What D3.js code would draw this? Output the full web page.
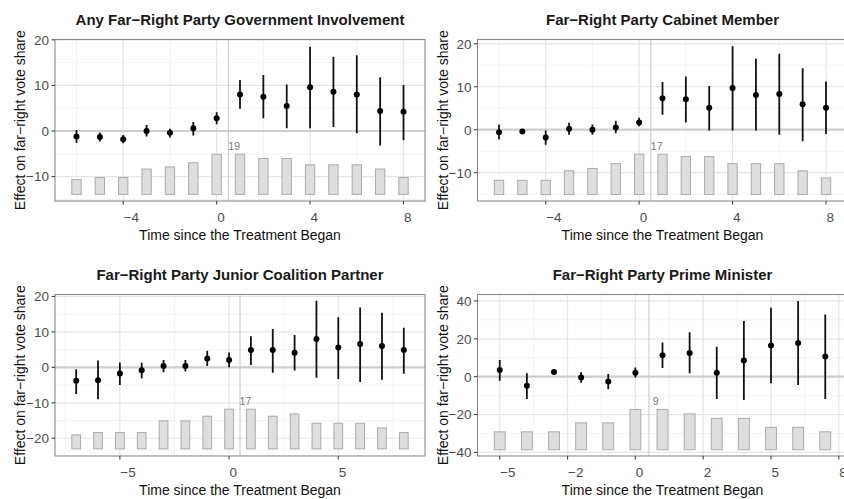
<!DOCTYPE html>
<html>
<head>
<meta charset="utf-8">
<script src="https://cdn.jsdelivr.net/npm/d3@7"></script>
<style>
  body { margin: 0; background: #fff; }
  svg { display: block; font-family: "Liberation Sans", Arial, Helvetica, sans-serif; }
</style>
</head>
<body>
<svg id="chart" width="844" height="499"></svg>
<script>
// ---- Event-study estimates: period, point estimate, 95% CI, number of treated units ----

// Any far-right party government involvement
const govPeriods = [-6, -5, -4, -3, -2, -1, 0, 1, 2, 3, 4, 5, 6, 7, 8];
const govEst     = [-1.2, -1.3, -1.8, 0.0, -0.4, 0.6, 2.8, 8.0, 7.5, 5.5, 9.6, 8.6, 8.0, 4.4, 4.2];
const govLo      = [-2.6, -2.3, -2.7, -1.2, -1.4, -1.0, 1.5, 4.9, 2.8, 0.6, 0.6, 0.9, -0.5, -3.2, -2.0];
const govHi      = [0.2, -0.3, -0.9, 1.3, 0.5, 2.0, 4.1, 11.2, 12.3, 10.2, 18.5, 16.3, 16.6, 11.8, 10.1];
const govCount   = [7, 8, 8, 12, 13, 15, 19, 19, 17, 17, 14, 14, 14, 12, 8];

// Far-right party cabinet member
const cabPeriods = [-6, -5, -4, -3, -2, -1, 0, 1, 2, 3, 4, 5, 6, 7, 8];
const cabEst     = [-0.6, -0.4, -1.8, 0.2, 0.0, 0.5, 1.7, 7.3, 7.1, 5.1, 9.7, 8.1, 8.3, 5.9, 5.1];
const cabLo      = [-2.3, -0.8, -3.5, -1.2, -1.2, -0.8, 0.8, 3.5, 1.7, -0.2, -0.2, -0.2, -1.2, -2.7, -1.0];
const cabHi      = [1.2, 0.0, -0.2, 1.6, 1.2, 2.1, 2.8, 11.1, 12.4, 10.2, 19.4, 16.5, 17.7, 14.3, 11.2];
const cabCount   = [6, 6, 6, 10, 11, 13, 17, 17, 16, 16, 13, 13, 13, 10, 7];

// Far-right party junior coalition partner
const jrPeriods = [-7, -6, -5, -4, -3, -2, -1, 0, 1, 2, 3, 4, 5, 6, 7, 8];
const jrEst     = [-3.8, -3.6, -1.7, -0.8, 0.4, 0.4, 2.5, 2.1, 4.9, 4.9, 4.1, 8.0, 5.6, 6.6, 6.0, 4.9];
const jrLo      = [-7.5, -9.0, -5.0, -3.1, -1.4, -1.2, 0.4, 0.0, 0.7, -1.5, -0.9, -2.9, -3.3, -4.1, -3.5, -1.8];
const jrHi      = [-0.5, 1.9, 1.4, 1.3, 2.1, 2.1, 4.7, 4.2, 8.8, 10.8, 9.1, 18.8, 14.1, 16.9, 15.4, 11.2];
const jrCount   = [6, 7, 7, 7, 12, 12, 14, 17, 17, 14, 15, 11, 11, 11, 9, 7];

// Far-right party prime minister
const pmPeriods = [-5, -4, -3, -2, -1, 0, 1, 2, 3, 4, 5, 6, 7];
const pmEst     = [3.5, -4.8, 2.5, -0.4, -2.6, 2.1, 11.3, 12.5, 2.1, 8.6, 16.4, 17.8, 10.6];
const pmLo      = [-2.1, -11.8, 1.4, -3.2, -6.7, -0.5, 4.6, 1.8, -11.8, -12.3, -3.5, -4.4, -11.8];
const pmHi      = [8.8, 1.8, 3.5, 2.3, 1.4, 4.8, 18.0, 23.4, 15.8, 29.4, 36.4, 40.0, 32.9];
const pmCount   = [4, 4, 4, 6, 6, 9, 9, 8, 7, 7, 5, 5, 4];

// ---- Panel titles and axis breaks ----
const panelTitles = [
  "Any Far\u2212Right Party Government Involvement",
  "Far\u2212Right Party Cabinet Member",
  "Far\u2212Right Party Junior Coalition Partner",
  "Far\u2212Right Party Prime Minister"
];
const xTicksWide   = [-4, 0, 4, 8];
const xTicksJunior = [-5, 0, 5];
const xTicksPM     = [-5, -2.5, 0, 2.5, 5, 7.5];
const xLabelsPM    = ["-5", "-2", "0", "2", "5", "8"];
const yTicksSmall  = [-10, 0, 10, 20];
const yTicksJunior = [-20, -10, 0, 10, 20];
const yTicksPM     = [-40, -20, 0, 20, 40];

const xTitle = "Time since the Treatment Began";
const yTitle = "Effect on far\u2212right vote share";

// ---- Panel layout (pixel frame, scale limits, count-bar placement) ----
const panels = [
  { title: panelTitles[0], periods: govPeriods, est: govEst, lo: govLo, hi: govHi, count: govCount,
    left: 55, top: 39.5, xDom: [-6.92, 8.92], yDom: [-15.35, 20.07],
    xTicks: xTicksWide, xLabels: null, yTicks: yTicksSmall, barBase: -13.9, barTop: -5.1 },
  { title: panelTitles[1], periods: cabPeriods, est: cabEst, lo: cabLo, hi: cabHi, count: cabCount,
    left: 477.5, top: 39.5, xDom: [-6.92, 8.92], yDom: [-16.6, 21.0],
    xTicks: xTicksWide, xLabels: null, yTicks: yTicksSmall, barBase: -15.1, barTop: -5.7 },
  { title: panelTitles[2], periods: jrPeriods, est: jrEst, lo: jrLo, hi: jrHi, count: jrCount,
    left: 55, top: 294.5, xDom: [-7.97, 8.97], yDom: [-25.0, 20.55],
    xTicks: xTicksJunior, xLabels: null, yTicks: yTicksJunior, barBase: -23.0, barTop: -11.8 },
  { title: panelTitles[3], periods: pmPeriods, est: pmEst, lo: pmLo, hi: pmHi, count: pmCount,
    left: 477.5, top: 294.5, xDom: [-5.82, 7.82], yDom: [-41.9, 43.4],
    xTicks: xTicksPM, xLabels: xLabelsPM, yTicks: yTicksPM, barBase: -38.6, barTop: -17.3 }
];
const panelW = 370, panelH = 161.5;
const barHalfWidth = 0.2;      // count bars span period ± 0.2
const treatLine = 0.5;         // treatment onset marker
const countLabelX = 0.75;

const minus = s => String(s).replace("-", "\u2212");

const svg = d3.select("#chart");

panels.forEach(p => {
  const x = d3.scaleLinear().domain(p.xDom).range([p.left, p.left + panelW]);
  const y = d3.scaleLinear().domain(p.yDom).range([p.top + panelH, p.top]);
  const g = svg.append("g");

  const clipId = "clip" + Math.round(p.left) + "_" + Math.round(p.top);
  svg.append("clipPath").attr("id", clipId).append("rect")
    .attr("x", p.left).attr("y", p.top).attr("width", panelW).attr("height", panelH);
  const plot = g.append("g").attr("clip-path", `url(#${clipId})`);

  // background
  plot.append("rect").attr("x", p.left).attr("y", p.top)
    .attr("width", panelW).attr("height", panelH).attr("fill", "#fff");

  // minor grid at midpoints between breaks, then major grid
  const mids = arr => {
    const step = arr[1] - arr[0];
    const out = [arr[0] - step / 2];
    for (let i = 0; i < arr.length - 1; i++) out.push((arr[i] + arr[i + 1]) / 2);
    out.push(arr[arr.length - 1] + step / 2);
    return out;
  };
  const xMinor = mids(p.xTicks), yMinor = mids(p.yTicks);
  plot.selectAll(null).data(xMinor).join("line")
    .attr("x1", d => x(d)).attr("x2", d => x(d)).attr("y1", p.top).attr("y2", p.top + panelH)
    .attr("stroke", "#f0f0f0").attr("stroke-width", 0.8);
  plot.selectAll(null).data(yMinor).join("line")
    .attr("y1", d => y(d)).attr("y2", d => y(d)).attr("x1", p.left).attr("x2", p.left + panelW)
    .attr("stroke", "#f0f0f0").attr("stroke-width", 0.8);
  plot.selectAll(null).data(p.xTicks).join("line")
    .attr("x1", d => x(d)).attr("x2", d => x(d)).attr("y1", p.top).attr("y2", p.top + panelH)
    .attr("stroke", "#e5e5e5").attr("stroke-width", 1.2);
  plot.selectAll(null).data(p.yTicks).join("line")
    .attr("y1", d => y(d)).attr("y2", d => y(d)).attr("x1", p.left).attr("x2", p.left + panelW)
    .attr("stroke", "#e5e5e5").attr("stroke-width", 1.2);

  // reference lines
  plot.append("line").attr("x1", p.left).attr("x2", p.left + panelW)
    .attr("y1", y(0)).attr("y2", y(0)).attr("stroke", "#cfcfcf").attr("stroke-width", 2.2);
  plot.append("line").attr("x1", x(treatLine)).attr("x2", x(treatLine))
    .attr("y1", p.top).attr("y2", p.top + panelH).attr("stroke", "#c6c6c6").attr("stroke-width", 1);

  // count bars
  const maxCount = d3.max(p.count);
  const barH = d3.scaleLinear().domain([0, maxCount]).range([p.barBase, p.barTop]);
  plot.selectAll(null).data(p.periods.map((t, i) => ({ t, c: p.count[i] }))).join("rect")
    .attr("x", d => x(d.t - barHalfWidth))
    .attr("width", d => x(d.t + barHalfWidth) - x(d.t - barHalfWidth))
    .attr("y", d => y(barH(d.c)))
    .attr("height", d => y(p.barBase) - y(barH(d.c)))
    .attr("fill", "#dedede").attr("stroke", "#ababab").attr("stroke-width", 1);
  plot.append("text")
    .attr("x", x(countLabelX)).attr("y", y(p.barTop) - 4.5)
    .attr("text-anchor", "middle").attr("font-size", 10.5).attr("fill", "#7a7a7a")
    .text(maxCount);

  // confidence intervals and point estimates
  const pts = p.periods.map((t, i) => ({ t, e: p.est[i], lo: p.lo[i], hi: p.hi[i] }));
  plot.selectAll(null).data(pts).join("line")
    .attr("x1", d => x(d.t)).attr("x2", d => x(d.t))
    .attr("y1", d => y(d.lo)).attr("y2", d => y(d.hi))
    .attr("stroke", "#111").attr("stroke-width", 1.8);
  plot.selectAll(null).data(pts).join("circle")
    .attr("cx", d => x(d.t)).attr("cy", d => y(d.e)).attr("r", 3)
    .attr("fill", "#000");

  // panel border
  g.append("rect").attr("x", p.left).attr("y", p.top)
    .attr("width", panelW).attr("height", panelH)
    .attr("fill", "none").attr("stroke", "#8a8a8a").attr("stroke-width", 1.1);

  // x axis ticks and labels (labels start at the tick)
  const xa = g.append("g");
  xa.selectAll(null).data(p.xTicks).join("line")
    .attr("x1", d => x(d)).attr("x2", d => x(d))
    .attr("y1", p.top + panelH).attr("y2", p.top + panelH + 3.5)
    .attr("stroke", "#444").attr("stroke-width", 1.1);
  xa.selectAll(null).data(p.xTicks).join("text")
    .attr("x", d => x(d) + 0.5).attr("y", p.top + panelH + 20.5)
    .attr("text-anchor", "start").attr("font-size", 13.5).attr("fill", "#4d4d4d")
    .text((d, i) => minus(p.xLabels ? p.xLabels[i] : d));

  // y axis ticks and labels
  const ya = g.append("g");
  ya.selectAll(null).data(p.yTicks).join("line")
    .attr("x1", p.left - 3.5).attr("x2", p.left)
    .attr("y1", d => y(d)).attr("y2", d => y(d))
    .attr("stroke", "#444").attr("stroke-width", 1.1);
  ya.selectAll(null).data(p.yTicks).join("text")
    .attr("x", p.left - 6).attr("y", d => y(d)).attr("dy", "0.36em")
    .attr("text-anchor", "end").attr("font-size", 13.5).attr("fill", "#4d4d4d")
    .text(d => minus(d));

  // titles
  const cx = p.left + panelW / 2;
  g.append("text").attr("x", cx).attr("y", p.top - 14.5)
    .attr("text-anchor", "middle").attr("font-size", 15).attr("font-weight", "bold")
    .attr("fill", "#1a1a1a").text(p.title);
  g.append("text").attr("x", cx).attr("y", p.top + panelH + 39)
    .attr("text-anchor", "middle").attr("font-size", 14).attr("fill", "#111")
    .text(xTitle);
  g.append("text")
    .attr("transform", `translate(${p.left - 34.5},${p.top + panelH / 2}) rotate(-90)`)
    .attr("dy", "0.35em").attr("text-anchor", "middle").attr("font-size", 14).attr("fill", "#111")
    .text(yTitle);
});
</script>
</body>
</html>
